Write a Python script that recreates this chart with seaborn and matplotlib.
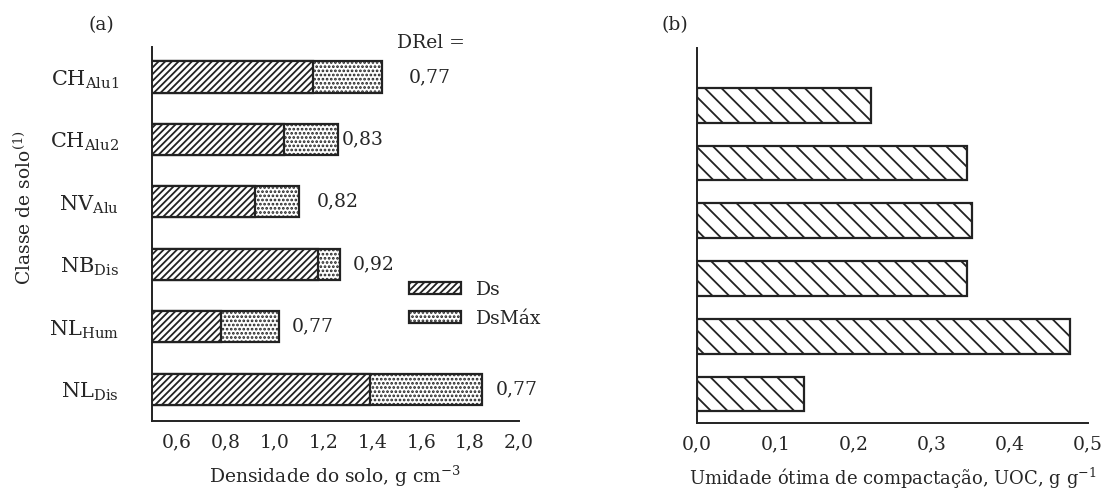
import numpy as np
import pandas as pd
import matplotlib
matplotlib.use("Agg")
import matplotlib.pyplot as plt
import matplotlib.patches as mpatches
from matplotlib.ticker import FixedLocator, FixedFormatter
import seaborn as sns

# ---------------- data ----------------
classes = [r"$\mathrm{CH}_{\mathrm{Alu1}}$", r"$\mathrm{CH}_{\mathrm{Alu2}}$",
           r"$\mathrm{NV}_{\mathrm{Alu}}$", r"$\mathrm{NB}_{\mathrm{Dis}}$",
           r"$\mathrm{NL}_{\mathrm{Hum}}$", r"$\mathrm{NL}_{\mathrm{Dis}}$"]
ds = [1.16, 1.04, 0.92, 1.18, 0.78, 1.39]
ds_max = [1.44, 1.26, 1.10, 1.27, 1.02, 1.85]
drel = ["0,77", "0,83", "0,82", "0,92", "0,77", "0,77"]
uoc = [0.222, 0.345, 0.352, 0.345, 0.477, 0.137]

xticks_a = [0.6, 0.8, 1.0, 1.2, 1.4, 1.6, 1.8, 2.0]
xticklabels_a = ["0,6", "0,8", "1,0", "1,2", "1,4", "1,6", "1,8", "2,0"]
xticks_b = [0.0, 0.1, 0.2, 0.3, 0.4, 0.5]
xticklabels_b = ["0,0", "0,1", "0,2", "0,3", "0,4", "0,5"]

# label offsets (points) to the right of DsMax bar end
drel_offsets = [19, 3, 13, 9, 9, 10]

# ---------------- style ----------------
sns.set_style("white")
plt.rcParams["font.family"] = ["DejaVu Serif"]
plt.rcParams["mathtext.fontset"] = "dejavuserif"
plt.rcParams["hatch.linewidth"] = 1.3
plt.rcParams["hatch.color"] = "black"

df = pd.DataFrame({"classe": classes, "ds": ds, "ds_max": ds_max, "uoc": uoc})

fig = plt.figure(figsize=(11.16, 4.94), dpi=100)
ax_a = fig.add_axes([152 / 1116, 1 - 421 / 494, 367 / 1116, 374 / 494])
ax_b = fig.add_axes([697 / 1116, 1 - 423 / 494, 391 / 1116, 375 / 494])

lw = 1.6
ec = "#222222"
# panel (a): DsMax (dotted) underneath, Ds (hatched) on top
sns.barplot(data=df, x="ds_max", y="classe", orient="h", ax=ax_a, color="white",
            edgecolor=ec, linewidth=lw, width=0.5, hatch="....",
            saturation=1)
sns.barplot(data=df, x="ds", y="classe", orient="h", ax=ax_a, color="white",
            edgecolor=ec, linewidth=lw, width=0.5, hatch="/////",
            saturation=1)

ax_a.set_xlim(0.5, 2.0)
ax_a.set_ylim(5.51, -0.48)

for i, (xv, lab, off) in enumerate(zip(ds_max, drel, drel_offsets)):
    ax_a.annotate(lab, xy=(xv, i), xytext=(off, 0), textcoords="offset points",
                  ha="left", va="center", fontsize=13.5)

# panel (b)
sns.barplot(data=df, x="uoc", y="classe", orient="h", ax=ax_b, color="white",
            edgecolor=ec, linewidth=lw, width=0.6, hatch="\\\\",
            saturation=1)
ax_b.set_xlim(0.0, 0.5)
ax_b.set_ylim(5.5, -0.99)

for ax in (ax_a, ax_b):
    for s in ["top", "right"]:
        ax.spines[s].set_visible(False)
    for s in ["left", "bottom"]:
        ax.spines[s].set_linewidth(1.4)
        ax.spines[s].set_color(ec)
    ax.tick_params(axis="x", which="major", direction="in", length=5, width=1.4,
                   pad=9, labelsize=13.5, color=ec)
    ax.tick_params(axis="x", which="minor", direction="in", length=3, width=1.2,
                   color=ec)
    ax.tick_params(axis="y", length=0)

ax_a.xaxis.set_major_locator(FixedLocator(xticks_a))
ax_a.xaxis.set_major_formatter(FixedFormatter(xticklabels_a))
ax_a.xaxis.set_minor_locator(FixedLocator([0.7, 0.9, 1.1, 1.3, 1.5, 1.7, 1.9]))
ax_b.xaxis.set_major_locator(FixedLocator(xticks_b))
ax_b.xaxis.set_major_formatter(FixedFormatter(xticklabels_b))
ax_b.xaxis.set_minor_locator(FixedLocator(
    [k / 30 for k in range(1, 15) if k % 3 != 0]))

ax_a.tick_params(axis="y", labelsize=15, pad=24)
ax_b.set_yticks([])
ax_b.set_ylabel("")

ax_a.set_xlabel(r"Densidade do solo, g cm$^{-3}$", fontsize=13.5, labelpad=9)
ax_a.set_ylabel(r"Classe de solo$^{(1)}$", fontsize=13.5)
ax_b.set_xlabel(r"Umidade ótima de compactação, UOC, g g$^{-1}$", fontsize=13,
                labelpad=9)
ax_a.yaxis.set_label_coords(-0.32, 0.57)

fig.text(101 / 1116, 1 - 25 / 494, "(a)", ha="center", va="center", fontsize=13.5)
fig.text(675 / 1116, 1 - 25 / 494, "(b)", ha="center", va="center", fontsize=13.5)
fig.text(431 / 1116, 1 - 43 / 494, "DRel =", ha="center", va="center", fontsize=13.5)

h1 = mpatches.Patch(facecolor="white", edgecolor=ec, hatch="/////",
                    linewidth=lw, label="Ds")
h2 = mpatches.Patch(facecolor="white", edgecolor=ec, hatch="....",
                    linewidth=lw, label="DsMáx")
ax_a.legend(handles=[h1, h2], loc="upper left", bbox_to_anchor=(0.70, 0.375),
            frameon=False, fontsize=13.5, handlelength=2.8, handleheight=0.6,
            labelspacing=0.6, handletextpad=0.8, borderpad=0, borderaxespad=0)

fig.savefig("out.png", dpi=100)
